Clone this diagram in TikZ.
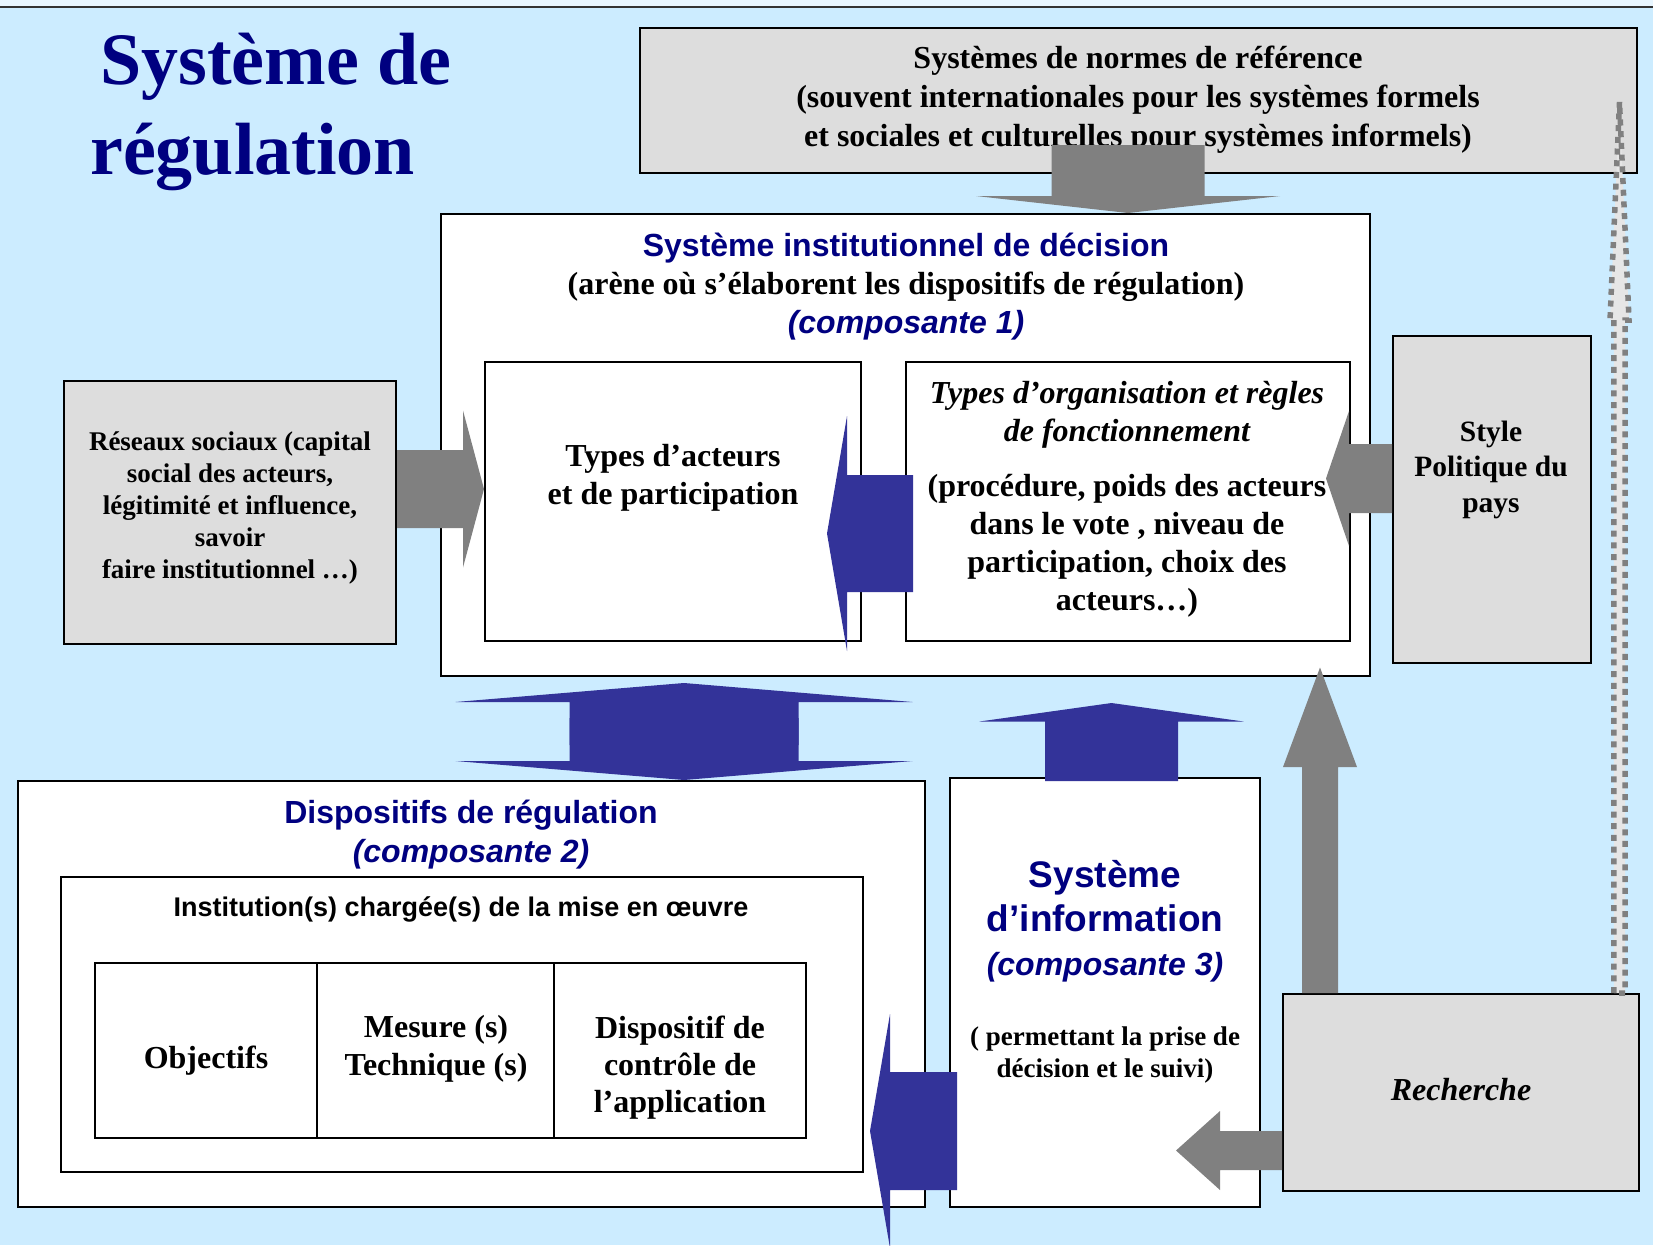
\documentclass[tikz,border=0pt]{standalone}
\usepackage{fontspec}
\setmainfont{Liberation Serif}
\setsansfont{Liberation Sans}
\usetikzlibrary{calc,fit,positioning}
\definecolor{fond}{HTML}{CCECFF}
\definecolor{haut}{HTML}{E8F6FF}
\definecolor{bleuF}{HTML}{333399}
\definecolor{marine}{HTML}{000080}
\definecolor{grisF}{HTML}{808080}
\definecolor{grisC}{HTML}{DDDDDD}
\definecolor{grisP}{HTML}{E6E6E6}
\newcommand{\fleche}[6]{%
  \coordinate (hb) at ($(#3)!#6!(#2)$);
  \path[#1] ($(#2)!#4!90:(#3)$) -- ($(hb)!#4!90:(#3)$) -- ($(hb)!#5!90:(#3)$) -- (#3)
    -- ($(hb)!#5!-90:(#3)$) -- ($(hb)!#4!-90:(#3)$) -- ($(#2)!#4!-90:(#3)$) -- cycle;}
\tikzset{
  boite/.style={draw, line width=2pt, inner sep=0pt},
  titre/.style={inner sep=0pt, anchor=base west, text=marine, font=\bfseries\fontsize{74}{88}\selectfont},
  txt/.style 2 args={inner sep=0pt, align=center, yshift=-3pt, font=\bfseries\fontsize{#1}{#2}\selectfont},
  gris/.style={fill=grisF},
  bleu/.style={fill=bleuF},
  pointille/.style={fill=grisP, draw=grisF, line width=5.5pt, dash pattern=on 6pt off 5.7pt}
}
\begin{document}
\begin{tikzpicture}[x=1pt,y=-1pt]
  \useasboundingbox (0,0) rectangle (1653,1245);
  \fill[fond] (0,0) rectangle (1653,1245);
  \fill[haut] (0,0) rectangle (1653,7);
  \draw[line width=1.5pt, black!80] (0,7) -- (1653,7);
  \node[titre] (titre1) at (100,84) {Système de};
  \node[titre] (titre2) at (90,174) {régulation};

  \node[boite, fill=grisC, fit={(640,28) (1637,173)}] (normes) {};
  \node[txt={32}{39}] (tnormes) at (1138,96.5) {Systèmes de normes de référence\\(souvent internationales pour les systèmes formels\\et sociales et culturelles pour systèmes informels)};
  \node[boite, fill=white, fit={(441,214) (1370,676)}] (inst) {};
  \node[boite, fill=white, fit={(485,362) (861,641)}] (acteurs) {};
  \node[boite, fill=white, fit={(906,362) (1350,641)}] (orga) {};
  \node[boite, fill=grisC, fit={(64,381) (396,644)}] (reseaux) {};
  \node[boite, fill=grisC, fit={(1393,336) (1591,663)}] (stylepol) {};
  \node[boite, fill=white, fit={(18,781) (925,1207)}] (dispo) {};
  \node[boite, fill=white, fit={(61,877) (863,1172)}] (instit) {};
  \node[boite, fit={(95,963) (317,1138)}] (objectifs) {};
  \node[boite, fit={(317,963) (554,1138)}] (mesure) {};
  \node[boite, fit={(554,963) (806,1138)}] (controle) {};
  \node[boite, fill=white, fit={(950,778) (1260,1207)}] (info) {};
  \node[boite, fill=grisC, fit={(1283,994) (1639,1191)}] (recherche) {};

  \node[txt={32}{38.5}] (tinst) at (906,283.5) {{\sffamily\color{marine}Système institutionnel de décision}\\(arène où s’élaborent les dispositifs de régulation)\\{\sffamily\itshape\color{marine}(composante 1)}};
  \node[txt={32}{38}] (tacteurs) at (673,475) {Types d’acteurs\\et de participation};
  \node[txt={32}{38}] (torga) at (1127,496) {{\itshape Types d’organisation et règles}\\{\itshape de fonctionnement}\\[17pt](procédure, poids des acteurs\\dans le vote , niveau de\\participation, choix des\\acteurs…)};
  \node[txt={27}{32}] (treseaux) at (230,504.5) {Réseaux sociaux (capital\\social des acteurs,\\légitimité et influence,\\savoir\\faire institutionnel …)};
  \node[txt={29.5}{35.5}] (tstyle) at (1491,466.5) {Style\\Politique du\\pays};
  \node[txt={32}{39}] (tdispo) at (471,831.5) {{\sffamily\color{marine}Dispositifs de régulation}\\{\sffamily\itshape\color{marine}(composante 2)}};
  \node[txt={27}{32}, font=\sffamily\bfseries\fontsize{27}{32}\selectfont] (tinstit) at (461,906) {Institution(s) chargée(s) de la mise en œuvre};
  \node[txt={32}{38}] (tobjectifs) at (206,1058) {Objectifs};
  \node[txt={32}{38}] (tmesure) at (436,1046) {Mesure (s)\\Technique (s)};
  \node[txt={32}{37}] (tcontrole) at (680,1065) {Dispositif de\\contrôle de\\l’application};
  \node[txt={37}{44}, font=\sffamily\bfseries\fontsize{37}{44}\selectfont, text=marine] (tinfo) at (1105,918.5) {Système\\d’information\\{\fontsize{32}{44}\selectfont\itshape (composante 3)}};
  \node[txt={27}{32}] (tinfo2) at (1105,1052) {( permettant la prise de\\décision et le suivi)};
  \node[txt={32}{38}, font=\bfseries\itshape\fontsize{32}{38}\selectfont] (trecherche) at (1461,1087) {Recherche};

  \fleche{gris}{1128,145}{1128,0 |- inst.north}{76.5pt}{152pt}{17pt}
  \fleche{gris}{reseaux.east |- 0,489}{acteurs.west |- 0,489}{39pt}{78.5pt}{21pt}
  \fleche{bleu}{913,533.5}{827,533.5}{58.5pt}{117.5pt}{20pt}
  \fleche{gris}{stylepol.west |- 0,478.5}{1326,478.5}{34.5pt}{67.5pt}{23pt}
  \fleche{gris}{1320,0 |- recherche.north}{1320,667.5}{18pt}{37pt}{99.5pt}
  \fleche{gris}{recherche.west |- 0,1150.5}{1176,1150.5}{19.5pt}{39.5pt}{44pt}
  \fleche{bleu}{1111.5,781}{1111.5,703}{66.5pt}{132pt}{18.5pt}
  \fleche{bleu}{957,1131}{870,1131}{59pt}{117pt}{20pt}
  \fleche{bleu}{684,745}{684,683}{114.5pt}{228.5pt}{19pt}
  \fleche{bleu}{684,718}{684,780}{114.5pt}{228.5pt}{19pt}
  \fleche{pointille}{1619.5,0 |- recherche.north}{1619.5,102}{5.7pt}{9.5pt}{218pt}
\end{tikzpicture}
\end{document}
